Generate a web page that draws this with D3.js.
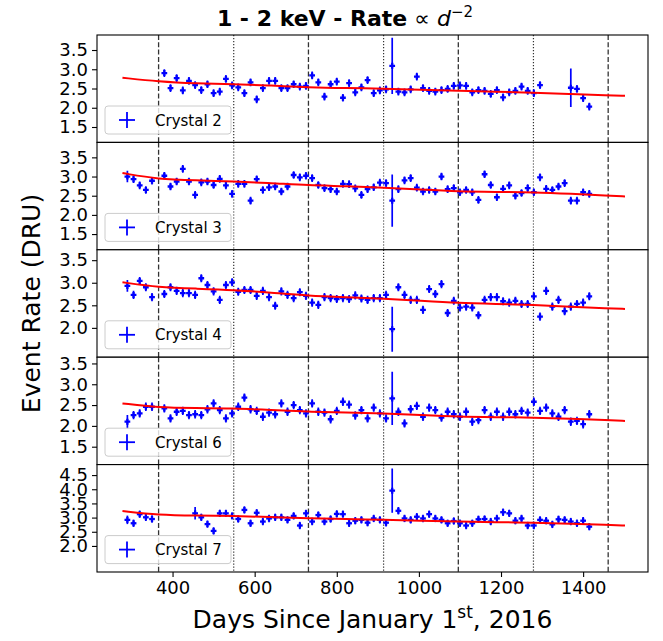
<!DOCTYPE html>
<html><head><meta charset="utf-8">
<script src="https://cdn.jsdelivr.net/npm/d3@7"></script>
<style>
body{margin:0;background:#fff}
text{font-family:"DejaVu Sans",sans-serif}
</style>
</head><body>
<svg id="chart" width="663" height="641"></svg>
<script>
// ---------------- data ----------------
const days = [290,305,320,335,350,365,380,395,410,425,440,455,470,485,500,515,530,545,560,575,
  590,605,620,635,650,665,680,695,710,725,740,755,770,785,800,815,830,845,860,875,
  890,905,920,935,950,965,980,995,1010,1025,1040,1055,1070,1085,1100,1115,1130,1145,1160,1175,
  1190,1205,1220,1235,1250,1265,1280,1295,1310,1325,1340,1355,1370,1385,1400,1415];

const crystalNames = ["Crystal 2","Crystal 3","Crystal 4","Crystal 6","Crystal 7"];

const rateC2 = [null,null,null,null,null,null,2.90,2.51,2.77,2.45,2.70,2.59,2.46,2.61,2.38,2.42,2.75,2.58,2.53,2.38,
  2.66,2.22,2.51,2.70,2.70,2.51,2.51,2.61,2.55,2.57,2.84,2.66,2.29,2.61,2.68,2.26,2.64,2.40,2.53,2.72,
  2.38,2.45,2.48,3.09,2.42,2.40,2.48,2.81,2.51,2.44,2.42,2.46,2.49,2.57,2.58,2.57,2.40,2.46,2.44,2.36,
  2.46,2.27,2.40,2.44,2.55,2.44,2.38,2.59,null,null,null,null,2.52,2.49,2.25,2.03];
const rateC3 = [3.00,2.93,2.77,2.65,2.89,null,3.02,2.74,2.87,3.20,2.87,2.52,2.85,2.87,2.78,2.94,2.77,2.55,2.81,2.81,
  2.37,2.93,2.65,2.72,2.74,2.61,2.74,3.04,2.98,3.02,2.96,2.78,2.70,2.67,2.61,2.81,2.80,2.69,2.52,2.67,
  2.72,2.84,2.83,2.37,2.67,2.90,2.96,2.71,2.61,2.65,2.61,3.00,2.67,2.70,2.59,2.65,2.59,2.39,3.06,2.78,
  2.46,2.68,2.77,2.50,2.57,2.70,2.59,2.98,2.68,2.65,2.74,2.83,2.37,2.37,2.59,2.55];
const rateC4 = [2.93,2.73,3.04,2.90,2.68,null,2.75,2.90,2.82,2.77,2.77,2.73,3.10,2.95,2.81,2.62,2.95,3.01,2.80,2.84,
  2.84,2.71,2.82,2.68,2.49,2.81,2.73,2.66,2.79,2.71,2.56,2.51,2.68,2.66,2.64,2.66,2.64,2.72,2.65,2.62,
  2.66,2.66,2.73,1.97,2.90,2.73,2.62,2.62,2.40,2.86,2.75,2.97,2.33,2.60,2.45,2.47,2.45,2.28,2.62,2.68,
  2.68,2.59,2.56,2.60,2.53,2.53,2.70,2.25,2.82,2.47,2.62,2.37,2.47,2.53,2.56,2.70];
const rateC6 = [2.10,2.26,2.30,2.46,2.46,null,2.42,2.18,2.34,2.36,2.26,2.28,2.26,2.40,2.54,2.38,2.18,2.30,2.46,2.68,
  2.40,2.36,2.22,2.32,2.28,2.54,2.34,2.50,2.38,2.30,2.54,2.34,2.32,2.16,2.36,2.58,2.51,2.25,2.38,2.18,
  2.44,2.30,2.18,2.66,2.34,2.06,2.40,2.48,2.22,2.44,2.38,2.20,2.34,2.28,2.22,2.34,2.10,2.14,2.38,2.22,
  2.34,2.22,2.34,2.28,2.36,2.32,2.58,2.36,2.44,2.30,2.22,2.38,2.10,2.12,2.04,2.28];
const rateC7 = [2.92,2.80,3.12,3.01,2.95,null,null,null,null,null,null,3.15,3.01,2.77,2.53,3.15,3.15,3.06,2.95,3.27,
  2.80,3.17,2.86,2.97,3.01,3.01,2.92,3.06,2.72,3.15,2.86,3.09,2.86,2.95,3.13,3.12,2.80,2.89,2.92,2.82,
  2.97,2.92,2.82,3.95,3.24,2.97,2.92,3.03,2.97,3.12,2.97,2.92,2.80,2.88,2.80,2.72,2.80,2.94,2.95,2.86,
  2.97,3.19,3.15,2.89,2.97,2.72,2.72,2.92,2.89,2.76,2.94,2.92,2.86,2.80,2.89,2.68];

// typical 1-sigma rate error for each crystal, and the points with larger errors [index, error]
const errTypical = [0.10, 0.10, 0.09, 0.10, 0.13];
const errLargeC2 = [[43,0.73],[72,0.50]];
const errLargeC3 = [[0,0.15],[43,0.68]];
const errLargeC4 = [[0,0.13],[43,0.50]];
const errLargeC6 = [[0,0.16],[43,0.64]];
const errLargeC7 = [[0,0.15],[11,0.22],[43,0.78]];
const dayHalfWidth = 7; // horizontal error (days)

// fitted model (rate ∝ d^-2) sampled along the time axis
const fitDays = [278,366,457,549,640,731,822,914,1005,1096,1187,1279,1370,1461,1502];
const fitC2 = [2.78,2.68,2.63,2.61,2.58,2.53,2.51,2.50,2.47,2.44,2.42,2.39,2.36,2.32,2.31];
const fitC3 = [3.09,2.93,2.90,2.87,2.83,2.77,2.75,2.71,2.66,2.61,2.60,2.59,2.55,2.50,2.48];
const fitC4 = [3.01,2.90,2.87,2.84,2.78,2.71,2.68,2.65,2.60,2.55,2.53,2.51,2.47,2.43,2.42];
const fitC6 = [2.54,2.44,2.43,2.42,2.38,2.34,2.32,2.30,2.26,2.22,2.21,2.20,2.17,2.14,2.12];
const fitC7 = [3.23,3.09,3.07,3.06,3.02,2.97,2.95,2.92,2.89,2.86,2.84,2.82,2.78,2.74,2.72];

const yLimits = [[1.10,3.89],[1.09,3.89],[1.35,3.73],[1.07,3.65],[1.08,4.87]];
const yTickValues = [[1.5,2.0,2.5,3.0,3.5],[1.5,2.0,2.5,3.0,3.5],[2.0,2.5,3.0,3.5],[1.5,2.0,2.5,3.0,3.5],[2.0,2.5,3.0,3.5,4.0,4.5]];
const xLimits = [216, 1558];
const xTickValues = [400,600,800,1000,1200,1400];
const newYearDays = [366,731,1096,1461];
const midYearDays = [549,914,1279];

// ---------------- drawing ----------------
const rates = [rateC2,rateC3,rateC4,rateC6,rateC7];
const errLarge = [errLargeC2,errLargeC3,errLargeC4,errLargeC6,errLargeC7];
const fits = [fitC2,fitC3,fitC4,fitC6,fitC7];

const svg = d3.select("#chart");
const L = 97, R = 648, T0 = 35, PH = 107.4;
const x = d3.scaleLinear().domain(xLimits).range([L, R]);
const BLUE = "#0000ff", RED = "#ff0000";

rates.forEach((rate, i) => {
  const top = T0 + i*PH, bot = top + PH;
  const y = d3.scaleLinear().domain(yLimits[i]).range([bot, top]);
  const g = svg.append("g");
  const cid = "clip" + i;
  svg.append("clipPath").attr("id", cid).append("rect")
    .attr("x", L).attr("y", top).attr("width", R-L).attr("height", PH);
  const inner = g.append("g").attr("clip-path", `url(#${cid})`);
  inner.append("rect").attr("x",L).attr("y",top).attr("width",R-L).attr("height",PH).attr("fill","#fff");

  // reference lines
  inner.selectAll("line.ny").data(newYearDays).join("line")
    .attr("x1", d=>x(d)).attr("x2", d=>x(d)).attr("y1", top).attr("y2", bot)
    .attr("stroke", "#333").attr("stroke-width", 1.3).attr("stroke-dasharray", "5,2.3");
  inner.selectAll("line.my").data(midYearDays).join("line")
    .attr("x1", d=>x(d)).attr("x2", d=>x(d)).attr("y1", top).attr("y2", bot)
    .attr("stroke", "#333").attr("stroke-width", 1.2).attr("stroke-dasharray", "1.2,1.8");

  const errs = rate.map(() => errTypical[i]);
  errLarge[i].forEach(([k, e]) => { errs[k] = e; });
  const pts = rate.map((v, k) => ({d: days[k], v, e: errs[k]})).filter(p => p.v !== null);

  const pg = inner.append("g");
  pg.selectAll("line.ve").data(pts).join("line")
    .attr("x1", p=>x(p.d)).attr("x2", p=>x(p.d))
    .attr("y1", p=>y(p.v - p.e)).attr("y2", p=>y(p.v + p.e))
    .attr("stroke", BLUE).attr("stroke-width", 1.7);
  pg.selectAll("line.he").data(pts).join("line")
    .attr("x1", p=>x(p.d - dayHalfWidth)).attr("x2", p=>x(p.d + dayHalfWidth))
    .attr("y1", p=>y(p.v)).attr("y2", p=>y(p.v))
    .attr("stroke", BLUE).attr("stroke-width", 2.3);
  pg.selectAll("line.vc").data(pts).join("line")
    .attr("x1", p=>x(p.d)).attr("x2", p=>x(p.d))
    .attr("y1", p=>y(p.v)-3).attr("y2", p=>y(p.v)+3)
    .attr("stroke", BLUE).attr("stroke-width", 2.3);

  // fit
  const line = d3.line().x((v,k)=>x(fitDays[k])).y(v=>y(v)).curve(d3.curveBasis);
  inner.append("path").attr("d", line(fits[i])).attr("fill","none")
    .attr("stroke", RED).attr("stroke-width", 2);

  // legend
  const lg = g.append("g");
  lg.append("rect").attr("x",105).attr("y",top+71).attr("width",126).attr("height",28)
    .attr("rx",3).attr("fill","#fff").attr("fill-opacity",0.8).attr("stroke","#cccccc").attr("stroke-width",1);
  const hx = 127, hy = top + 85;
  lg.append("line").attr("x1",hx-8).attr("x2",hx+8).attr("y1",hy).attr("y2",hy).attr("stroke",BLUE).attr("stroke-width",1.8);
  lg.append("line").attr("x1",hx).attr("x2",hx).attr("y1",hy-8).attr("y2",hy+8).attr("stroke",BLUE).attr("stroke-width",1.8);
  lg.append("text").attr("x",155).attr("y",hy+5.5).attr("font-size","15px").attr("fill","#000").text(crystalNames[i]);

  // frame
  g.append("rect").attr("x",L).attr("y",top).attr("width",R-L).attr("height",PH)
    .attr("fill","none").attr("stroke","#000").attr("stroke-width",1.1);

  // y axis
  const ya = g.append("g").attr("transform",`translate(${L},0)`)
    .call(d3.axisLeft(y).tickValues(yTickValues[i]).tickFormat(d3.format(".1f")).tickSize(5).tickPadding(4));
  ya.select(".domain").remove();
  ya.selectAll("text").attr("font-size","18px").attr("font-family","DejaVu Sans").attr("fill","#000");
  ya.selectAll("line").attr("stroke","#000").attr("stroke-width",1.1);

  if (i === rates.length - 1) {
    const xa = g.append("g").attr("transform",`translate(0,${bot})`)
      .call(d3.axisBottom(x).tickValues(xTickValues).tickFormat(d3.format("d")).tickSize(5).tickPadding(4));
    xa.select(".domain").remove();
    xa.selectAll("text").attr("font-size","18px").attr("font-family","DejaVu Sans").attr("fill","#000");
    xa.selectAll("line").attr("stroke","#000").attr("stroke-width",1.1);
  }
});

// title
const title = svg.append("text").attr("x", 345).attr("y", 26).attr("text-anchor","middle").attr("font-size","22px");
title.append("tspan").attr("font-weight","bold").text("1 - 2 keV - Rate");
title.append("tspan").text(" \u221D ");
title.append("tspan").attr("font-style","italic").text("d");
title.append("tspan").attr("font-size","15px").attr("dy","-9").text("\u22122");

// axis labels
const xl = svg.append("text").attr("x", (L+R)/2).attr("y", 628).attr("text-anchor","middle").attr("font-size","25px");
xl.append("tspan").text("Days Since January 1");
xl.append("tspan").attr("font-size","17px").attr("dy","-10").text("st");
xl.append("tspan").attr("dy","10").text(", 2016");

svg.append("text").attr("transform", `translate(40,${T0 + 2.5*PH}) rotate(-90)`)
  .attr("text-anchor","middle").attr("font-size","25px").text("Event Rate (DRU)");
</script>
</body></html>
